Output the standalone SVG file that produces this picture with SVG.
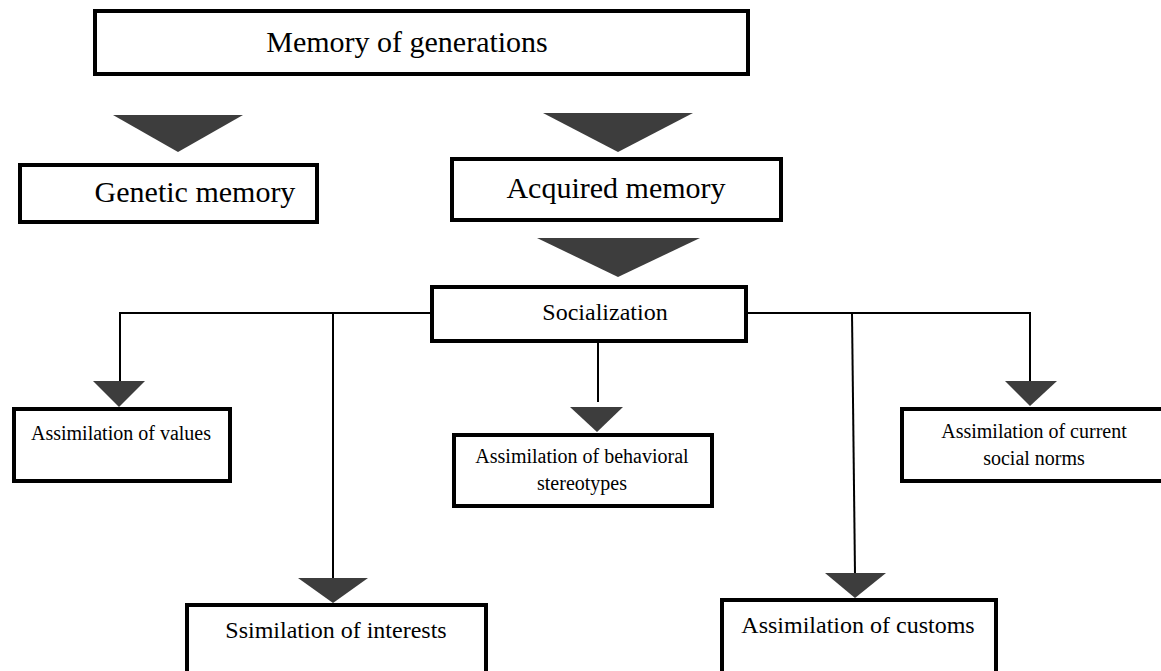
<svg xmlns="http://www.w3.org/2000/svg" width="1161" height="671" viewBox="0 0 1161 671">
<style>
.box{fill:#fff;stroke:#000;stroke-width:4}
.lbl{font-family:"Liberation Serif","Times New Roman",serif;fill:#000;text-anchor:middle}
.big{font-size:30px}
.mid{font-size:24px}
.sm{font-size:20px}
.ln{fill:none;stroke:#000;stroke-width:2}
.tri{fill:#3d3d3d}
</style>
<rect width="1161" height="671" fill="#fff"/>
<g id="connectors">
<path class="ln" d="M431,313 H120 V381"/>
<path class="ln" d="M333,313 V578"/>
<path class="ln" d="M598,342 V402"/>
<path class="ln" d="M747,313 H1030 V381"/>
<path class="ln" d="M852,313 L855,574"/>
<polygon class="tri" points="113,115 243,115 178,152"/>
<polygon class="tri" points="543,113 693,113 618,152"/>
<polygon class="tri" points="537,238 700,238 618,277"/>
<polygon class="tri" points="93,381 145,381 119,407"/>
<polygon class="tri" points="298,578 368,578 333,603"/>
<polygon class="tri" points="570,407 623,407 597,432"/>
<polygon class="tri" points="1005,381 1057,381 1030,406"/>
<polygon class="tri" points="825,573 886,573 855,598"/>
</g>
<g id="memory-of-generations">
<rect class="box" x="95" y="11" width="653" height="63"/>
<text class="lbl big" x="407" y="52">Memory of generations</text>
</g>
<g id="genetic-memory">
<rect class="box" x="20" y="165" width="297" height="57"/>
<text class="lbl big" x="195" y="202">Genetic memory</text>
</g>
<g id="acquired-memory">
<rect class="box" x="452" y="159" width="329" height="61"/>
<text class="lbl big" x="616" y="198">Acquired memory</text>
</g>
<g id="socialization">
<rect class="box" x="432" y="287" width="314" height="54"/>
<text class="lbl mid" x="605" y="320">Socialization</text>
</g>
<g id="values">
<rect class="box" x="14" y="409" width="216" height="72"/>
<text class="lbl sm" x="121" y="440">Assimilation of values</text>
</g>
<g id="behavioral">
<rect class="box" x="454" y="435" width="258" height="71"/>
<text class="lbl sm" x="582" y="463">Assimilation of behavioral</text>
<text class="lbl sm" x="582" y="490">stereotypes</text>
</g>
<g id="social-norms">
<rect class="box" x="902" y="409" width="270" height="72"/>
<text class="lbl sm" x="1034" y="438">Assimilation of current</text>
<text class="lbl sm" x="1034" y="465">social norms</text>
</g>
<g id="interests">
<rect class="box" x="187" y="605" width="299" height="80"/>
<text class="lbl mid" x="336" y="638">Ssimilation of interests</text>
</g>
<g id="customs">
<rect class="box" x="722" y="600" width="274" height="85"/>
<text class="lbl mid" x="858" y="633">Assimilation of customs</text>
</g>
</svg>
